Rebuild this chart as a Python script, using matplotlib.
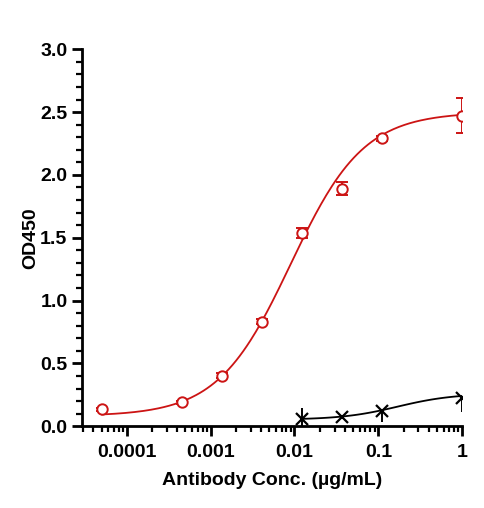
import numpy as np
import matplotlib.pyplot as plt

plt.rcParams['font.family'] = ['Liberation Sans', 'DejaVu Sans']
plt.rcParams['font.weight'] = 'bold'

# antibody binding, 3-fold dilutions (ug/mL)
conc_ab = [1.0, 0.1111, 0.03704, 0.01235, 0.004115, 0.001372, 0.000457, 0.0000508]
od_ab = [2.47, 2.29, 1.89, 1.54, 0.83, 0.40, 0.19, 0.135]
err_ab = [0.14, 0.02, 0.05, 0.04, 0.02, 0.02, 0.01, 0.01]

# control
conc_ctrl = [1.0, 0.1111, 0.03704, 0.01235]
od_ctrl = [0.225, 0.12, 0.075, 0.057]
err_lo_ctrl = [0.11, 0.09, 0.01, 0.09]
err_hi_ctrl = [0.0, 0.0, 0.01, 0.09]

# 4PL fit parameters: bottom, top, EC50, hill
fit_ab = (0.08, 2.5, 0.009, 1.0)
fit_ctrl = (0.052, 0.26, 0.17, 1.3)

red = '#CC1414'


def fourpl(x, p):
    b, t, ec, h = p
    return b + (t - b) / (1 + (ec / x) ** h)


fig = plt.figure(figsize=(4.85, 5.08), dpi=100)
ax = fig.add_axes([0.169, 0.161, 0.784, 0.742])

xs = np.logspace(np.log10(conc_ab[-1]), 0, 200)
ax.plot(xs, fourpl(xs, fit_ab), '-', color=red, lw=1.3)
ax.errorbar(conc_ab, od_ab, yerr=err_ab, fmt='o', color=red, mfc='white',
            mec=red, ms=7.5, mew=1.4, ecolor=red, elinewidth=1.4, capsize=4,
            capthick=1.4, zorder=3)

xc = np.logspace(np.log10(conc_ctrl[-1]), 0, 100)
ax.plot(xc, fourpl(xc, fit_ctrl), '-', color='black', lw=1.3)
ax.errorbar(conc_ctrl, od_ctrl, yerr=[err_lo_ctrl, err_hi_ctrl], fmt='x',
            color='black', ms=8, mew=1.6, elinewidth=1.4, capsize=0, zorder=3)

ax.set_xscale('log')
ax.set_xlim(2.92e-5, 1.0)
ax.set_ylim(0, 3.0)
ax.set_xticks([0.0001, 0.001, 0.01, 0.1, 1])
ax.set_xticklabels(['0.0001', '0.001', '0.01', '0.1', '1'])
ax.set_yticks(np.arange(0, 3.01, 0.5))
ax.set_yticklabels(['%.1f' % v for v in np.arange(0, 3.01, 0.5)])
ax.set_yticks(np.arange(0, 3.01, 0.1), minor=True)

for s in ['top', 'right']:
    ax.spines[s].set_visible(False)
for s in ['left', 'bottom']:
    ax.spines[s].set_linewidth(2)
ax.tick_params(which='major', length=7, width=2, labelsize=14, direction='out')
ax.tick_params(axis='x', which='major', pad=6)
ax.tick_params(which='minor', length=4.5, width=1.6, direction='out')

ax.set_xlabel('Antibody Conc. (\u00b5g/mL)', fontsize=14, fontweight='bold', labelpad=8)
ax.set_ylabel('OD450', fontsize=14, fontweight='bold')
ax.yaxis.set_label_coords(-0.112, 0.5)

fig.savefig('out.png')
